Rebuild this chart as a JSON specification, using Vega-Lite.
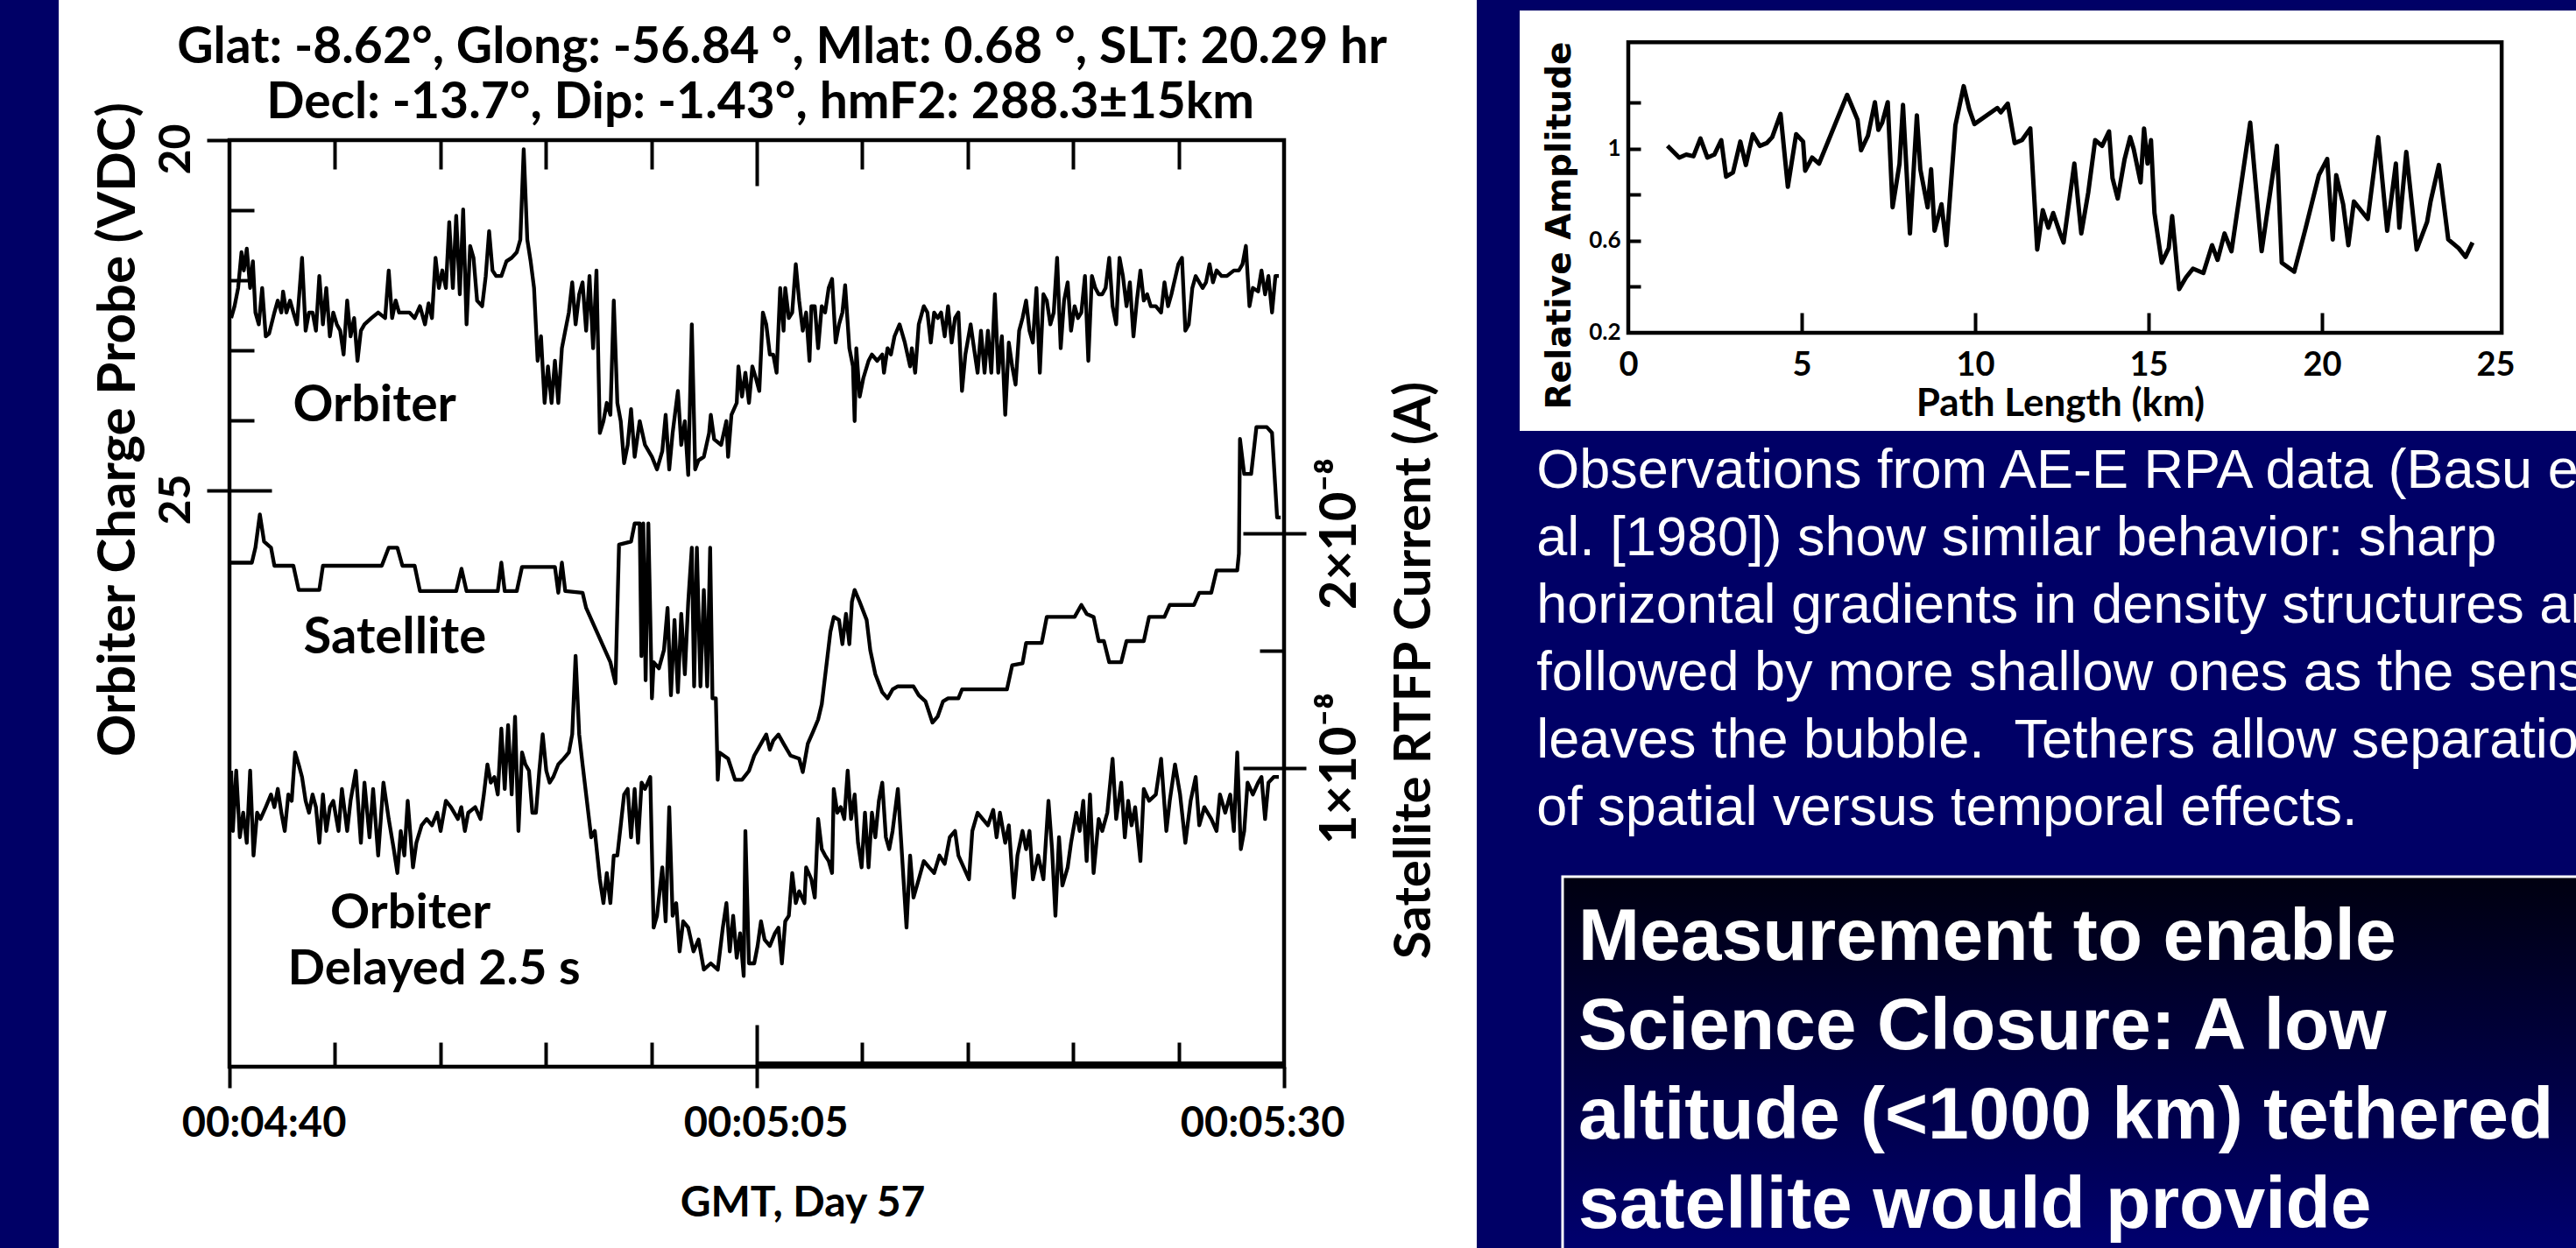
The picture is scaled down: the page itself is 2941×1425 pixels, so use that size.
{
"$schema": "https://vega.github.io/schema/vega-lite/v6.json",
"background": "#000066",
"padding": {"left": 67, "top": 0, "right": 0, "bottom": 0},
"config": {
  "view": {"stroke": null},
  "axis": {"domain": false, "grid": false, "tickColor": "black", "tickWidth": 4, "labelColor": "black", "titleColor": "black", "labelFont": "Lato", "labelFontWeight": "bold", "titleFont": "Lato", "titleFontWeight": "bold", "labelFlush": false, "labelOverlap": false, "labelBound": false, "labelLimit": 1000, "titleLimit": 2000}
},
"datasets": {
"orbiter": [
{"t":0.08,"v":22.54},{"t":0.24,"v":22.37},{"t":0.41,"v":22.11},{"t":0.57,"v":21.60},{"t":0.68,"v":21.86},{"t":0.82,"v":21.55},{"t":0.98,"v":22.11},{"t":1.11,"v":21.73},{"t":1.23,"v":22.46},{"t":1.39,"v":22.63},{"t":1.55,"v":22.11},{"t":1.72,"v":22.80},{"t":1.88,"v":22.76},{"t":2.13,"v":22.46},{"t":2.29,"v":22.29},{"t":2.46,"v":22.46},{"t":2.54,"v":22.16},{"t":2.70,"v":22.46},{"t":2.87,"v":22.29},{"t":3.03,"v":22.46},{"t":3.20,"v":22.63},{"t":3.44,"v":21.68},{"t":3.61,"v":22.72},{"t":3.77,"v":22.46},{"t":3.94,"v":22.46},{"t":4.10,"v":22.72},{"t":4.26,"v":21.94},{"t":4.43,"v":22.63},{"t":4.59,"v":22.11},{"t":4.76,"v":22.80},{"t":4.92,"v":22.46},{"t":5.09,"v":22.63},{"t":5.25,"v":22.72},{"t":5.41,"v":23.06},{"t":5.58,"v":22.29},{"t":5.74,"v":22.80},{"t":5.91,"v":22.54},{"t":6.07,"v":23.15},{"t":6.23,"v":22.72},{"t":6.40,"v":22.63},{"t":6.73,"v":22.54},{"t":7.05,"v":22.46},{"t":7.38,"v":22.54},{"t":7.55,"v":21.86},{"t":7.71,"v":22.54},{"t":7.88,"v":22.29},{"t":8.04,"v":22.46},{"t":8.29,"v":22.46},{"t":8.53,"v":22.46},{"t":8.78,"v":22.54},{"t":9.03,"v":22.37},{"t":9.27,"v":22.63},{"t":9.44,"v":22.33},{"t":9.60,"v":22.54},{"t":9.77,"v":21.68},{"t":9.93,"v":22.11},{"t":10.09,"v":21.86},{"t":10.26,"v":22.11},{"t":10.42,"v":21.17},{"t":10.59,"v":22.11},{"t":10.75,"v":21.08},{"t":10.92,"v":22.20},{"t":11.08,"v":20.99},{"t":11.24,"v":22.63},{"t":11.41,"v":21.51},{"t":11.57,"v":21.68},{"t":11.74,"v":22.29},{"t":11.98,"v":22.37},{"t":12.15,"v":21.94},{"t":12.31,"v":21.30},{"t":12.47,"v":21.86},{"t":12.64,"v":21.94},{"t":12.89,"v":21.94},{"t":13.13,"v":21.73},{"t":13.38,"v":21.68},{"t":13.62,"v":21.60},{"t":13.79,"v":21.42},{"t":13.95,"v":20.13},{"t":14.12,"v":21.42},{"t":14.28,"v":21.73},{"t":14.44,"v":22.11},{"t":14.61,"v":23.15},{"t":14.77,"v":22.80},{"t":14.94,"v":23.75},{"t":15.10,"v":23.23},{"t":15.27,"v":23.75},{"t":15.43,"v":23.15},{"t":15.59,"v":23.75},{"t":15.76,"v":22.97},{"t":15.92,"v":22.72},{"t":16.09,"v":22.46},{"t":16.25,"v":22.03},{"t":16.41,"v":22.63},{"t":16.58,"v":22.20},{"t":16.74,"v":22.03},{"t":16.91,"v":22.72},{"t":17.07,"v":21.94},{"t":17.24,"v":22.97},{"t":17.40,"v":21.86},{"t":17.56,"v":24.18},{"t":17.73,"v":24.01},{"t":17.89,"v":23.75},{"t":18.06,"v":23.92},{"t":18.22,"v":22.29},{"t":18.39,"v":23.75},{"t":18.55,"v":24.01},{"t":18.71,"v":24.61},{"t":18.88,"v":24.35},{"t":19.04,"v":23.84},{"t":19.21,"v":24.52},{"t":19.45,"v":24.01},{"t":19.70,"v":24.35},{"t":20.03,"v":24.52},{"t":20.27,"v":24.70},{"t":20.52,"v":24.44},{"t":20.68,"v":23.92},{"t":20.85,"v":24.70},{"t":21.01,"v":24.18},{"t":21.26,"v":23.58},{"t":21.42,"v":24.35},{"t":21.59,"v":24.01},{"t":21.75,"v":24.78},{"t":21.92,"v":22.63},{"t":22.08,"v":24.70},{"t":22.24,"v":24.57},{"t":22.49,"v":24.52},{"t":22.74,"v":24.18},{"t":22.82,"v":23.92},{"t":22.98,"v":24.27},{"t":23.31,"v":24.35},{"t":23.56,"v":24.01},{"t":23.64,"v":24.52},{"t":23.80,"v":23.92},{"t":24.05,"v":23.75},{"t":24.13,"v":23.23},{"t":24.30,"v":23.66},{"t":24.46,"v":23.32},
{"t":24.63,"v":23.75},{"t":24.79,"v":23.23},{"t":24.96,"v":23.40},{"t":25.12,"v":23.58},{"t":25.29,"v":22.46},{"t":25.45,"v":22.63},{"t":25.62,"v":23.06},{"t":25.78,"v":23.06},{"t":25.94,"v":23.32},{"t":26.11,"v":22.11},{"t":26.27,"v":22.72},{"t":26.35,"v":22.11},{"t":26.52,"v":22.54},{"t":26.68,"v":22.46},{"t":26.85,"v":21.77},{"t":27.01,"v":22.29},{"t":27.18,"v":22.72},{"t":27.34,"v":22.46},{"t":27.50,"v":23.15},{"t":27.59,"v":22.37},{"t":27.75,"v":22.37},{"t":27.91,"v":22.97},{"t":28.08,"v":22.37},{"t":28.24,"v":22.46},{"t":28.41,"v":22.11},{"t":28.57,"v":21.98},{"t":28.74,"v":22.89},{"t":28.90,"v":22.63},{"t":29.06,"v":22.46},{"t":29.19,"v":22.07},{"t":29.39,"v":22.97},{"t":29.56,"v":23.23},{"t":29.64,"v":24.01},{"t":29.72,"v":22.97},{"t":29.88,"v":23.66},{"t":30.05,"v":23.40},{"t":30.30,"v":23.15},{"t":30.46,"v":23.06},{"t":30.71,"v":23.15},{"t":30.95,"v":23.06},{"t":31.03,"v":23.32},{"t":31.20,"v":22.97},{"t":31.36,"v":23.06},{"t":31.53,"v":22.80},{"t":31.77,"v":22.63},{"t":32.02,"v":22.89},{"t":32.27,"v":23.23},{"t":32.35,"v":22.97},{"t":32.51,"v":23.32},{"t":32.68,"v":22.63},{"t":32.92,"v":22.37},{"t":33.09,"v":22.46},{"t":33.25,"v":22.89},{"t":33.41,"v":22.46},{"t":33.58,"v":22.54},{"t":33.74,"v":22.46},{"t":33.91,"v":22.80},{"t":34.07,"v":22.37},{"t":34.24,"v":22.89},{"t":34.40,"v":22.54},{"t":34.56,"v":22.46},{"t":34.73,"v":23.58},{"t":34.89,"v":23.06},{"t":35.14,"v":22.63},{"t":35.30,"v":22.97},{"t":35.47,"v":23.32},{"t":35.63,"v":22.72},{"t":35.80,"v":23.32},{"t":35.96,"v":22.72},{"t":36.12,"v":23.32},{"t":36.29,"v":22.20},{"t":36.45,"v":23.32},{"t":36.62,"v":22.80},{"t":36.78,"v":23.92},{"t":36.95,"v":22.89},{"t":37.11,"v":23.23},{"t":37.27,"v":23.49},{"t":37.44,"v":22.72},{"t":37.60,"v":22.54},{"t":37.77,"v":22.29},{"t":37.93,"v":22.72},{"t":38.09,"v":22.89},{"t":38.26,"v":22.11},{"t":38.42,"v":23.32},{"t":38.59,"v":22.20},{"t":38.75,"v":22.29},{"t":38.92,"v":22.63},{"t":39.08,"v":22.46},{"t":39.24,"v":21.68},{"t":39.41,"v":22.97},{"t":39.57,"v":22.29},{"t":39.74,"v":22.03},{"t":39.90,"v":22.72},{"t":40.07,"v":22.37},{"t":40.23,"v":22.54},{"t":40.39,"v":22.46},{"t":40.56,"v":21.94},{"t":40.72,"v":23.15},{"t":40.89,"v":21.94},{"t":41.05,"v":22.11},{"t":41.21,"v":22.20},{"t":41.38,"v":22.20},{"t":41.54,"v":22.11},{"t":41.71,"v":21.68},{"t":41.87,"v":22.37},{"t":42.04,"v":22.63},{"t":42.20,"v":21.68},{"t":42.36,"v":21.94},{"t":42.53,"v":22.37},{"t":42.69,"v":22.03},{"t":42.86,"v":22.80},{"t":43.02,"v":22.29},{"t":43.19,"v":21.86},{"t":43.35,"v":22.29},{"t":43.51,"v":22.20},{"t":43.68,"v":22.37},{"t":43.92,"v":22.37},{"t":44.17,"v":22.46},{"t":44.33,"v":22.03},{"t":44.50,"v":22.37},{"t":44.66,"v":22.20},{"t":44.99,"v":21.77},{"t":45.16,"v":21.68},{"t":45.32,"v":22.72},{"t":45.48,"v":22.63},{"t":45.65,"v":22.11},{"t":45.81,"v":21.94},{"t":45.98,"v":22.03},{"t":46.14,"v":22.11},{"t":46.30,"v":22.03},{"t":46.47,"v":21.77},{"t":46.63,"v":22.03},{"t":46.80,"v":21.86},{"t":47.04,"v":21.94},{"t":47.29,"v":21.94},{"t":47.62,"v":21.86},{"t":47.86,"v":21.86},{"t":48.03,"v":21.77},{"t":48.19,"v":21.51},{"t":48.36,"v":22.37},{"t":48.52,"v":22.11},{"t":48.77,"v":22.16},{"t":48.93,"v":21.86},{"t":49.10,"v":22.20},{"t":49.26,"v":21.94},{"t":49.43,"v":22.46},{"t":49.59,"v":21.94},{"t":49.75,"v":21.94}
],
"delayed": [
{"t":0.08,"v":29.00},{"t":0.16,"v":29.86},{"t":0.32,"v":29.00},{"t":0.49,"v":29.95},{"t":0.65,"v":29.60},{"t":0.82,"v":30.03},{"t":0.98,"v":29.00},{"t":1.14,"v":30.21},{"t":1.31,"v":29.60},{"t":1.47,"v":29.69},{"t":1.72,"v":29.52},{"t":1.97,"v":29.34},{"t":2.13,"v":29.52},{"t":2.29,"v":29.26},{"t":2.46,"v":29.60},{"t":2.62,"v":29.86},{"t":2.79,"v":29.34},{"t":2.95,"v":29.43},{"t":3.11,"v":28.74},{"t":3.28,"v":28.91},{"t":3.44,"v":29.09},{"t":3.61,"v":29.43},{"t":3.77,"v":29.60},{"t":3.94,"v":29.34},{"t":4.10,"v":29.52},{"t":4.26,"v":30.03},{"t":4.43,"v":29.34},{"t":4.59,"v":29.86},{"t":4.76,"v":29.52},{"t":4.92,"v":29.43},{"t":5.17,"v":29.86},{"t":5.33,"v":29.26},{"t":5.58,"v":29.86},{"t":5.74,"v":29.43},{"t":5.99,"v":29.00},{"t":6.23,"v":30.03},{"t":6.40,"v":29.17},{"t":6.64,"v":29.95},{"t":6.81,"v":29.26},{"t":7.05,"v":30.21},{"t":7.30,"v":29.17},{"t":7.55,"v":29.69},{"t":7.79,"v":30.12},{"t":7.96,"v":30.46},{"t":8.12,"v":29.86},{"t":8.29,"v":30.21},{"t":8.45,"v":29.43},{"t":8.70,"v":30.38},{"t":8.86,"v":30.03},{"t":9.11,"v":29.78},{"t":9.35,"v":29.69},{"t":9.60,"v":29.78},{"t":9.85,"v":29.60},{"t":10.01,"v":29.86},{"t":10.26,"v":29.43},{"t":10.50,"v":29.52},{"t":10.83,"v":29.69},{"t":10.99,"v":29.52},{"t":11.16,"v":29.86},{"t":11.32,"v":29.60},{"t":11.65,"v":29.52},{"t":11.90,"v":29.69},{"t":12.06,"v":29.34},{"t":12.23,"v":28.91},{"t":12.39,"v":29.17},{"t":12.56,"v":29.09},{"t":12.72,"v":29.34},{"t":12.89,"v":28.40},{"t":13.05,"v":29.26},{"t":13.21,"v":28.35},{"t":13.38,"v":29.34},{"t":13.54,"v":28.23},{"t":13.70,"v":29.86},{"t":13.87,"v":28.74},{"t":14.03,"v":28.91},{"t":14.20,"v":29.00},{"t":14.36,"v":29.60},{"t":14.53,"v":29.60},{"t":14.69,"v":29.00},{"t":14.85,"v":28.48},{"t":15.02,"v":29.00},{"t":15.18,"v":29.17},{"t":15.35,"v":29.09},{"t":15.59,"v":28.91},{"t":15.84,"v":28.83},{"t":16.09,"v":28.74},{"t":16.25,"v":28.48},{"t":16.41,"v":27.36},{"t":16.58,"v":28.48},{"t":16.74,"v":28.91},{"t":16.91,"v":29.34},{"t":17.15,"v":29.95},{"t":17.32,"v":29.86},{"t":17.56,"v":30.55},{"t":17.73,"v":30.89},{"t":17.89,"v":30.46},{"t":18.06,"v":30.89},{"t":18.22,"v":30.21},{"t":18.39,"v":30.21},{"t":18.55,"v":29.78},{"t":18.71,"v":29.34},{"t":18.88,"v":29.26},{"t":19.04,"v":29.95},{"t":19.21,"v":29.26},{"t":19.37,"v":30.03},{"t":19.54,"v":29.17},{"t":19.70,"v":29.26},{"t":19.95,"v":29.09},{"t":20.11,"v":31.24},{"t":20.27,"v":31.07},{"t":20.52,"v":30.38},{"t":20.68,"v":31.15},{"t":20.85,"v":29.52},{"t":21.01,"v":31.07},{"t":21.18,"v":30.89},{"t":21.34,"v":31.58},{"t":21.51,"v":31.15},{"t":21.75,"v":31.24},{"t":22.00,"v":31.58},{"t":22.24,"v":31.41},{"t":22.49,"v":31.84},{"t":22.82,"v":31.75},{"t":23.15,"v":31.84},{"t":23.39,"v":31.24},{"t":23.56,"v":30.89},{"t":23.72,"v":31.58},{"t":23.88,"v":31.07},{"t":24.05,"v":31.67},{"t":24.21,"v":31.32},{"t":24.38,"v":31.93},{"t":24.46,"v":29.86},{"t":24.63,"v":31.75},
{"t":24.88,"v":31.75},{"t":25.04,"v":31.50},{"t":25.20,"v":31.15},{"t":25.37,"v":31.41},{"t":25.62,"v":31.50},{"t":25.86,"v":31.32},{"t":26.03,"v":31.24},{"t":26.19,"v":31.75},{"t":26.35,"v":31.15},{"t":26.52,"v":31.07},{"t":26.68,"v":30.46},{"t":26.85,"v":30.89},{"t":27.01,"v":30.72},{"t":27.26,"v":30.89},{"t":27.34,"v":30.38},{"t":27.59,"v":30.55},{"t":27.75,"v":30.81},{"t":27.91,"v":29.69},{"t":28.08,"v":30.12},{"t":28.24,"v":30.21},{"t":28.41,"v":30.29},{"t":28.57,"v":30.46},{"t":28.65,"v":29.26},{"t":28.82,"v":29.60},{"t":28.98,"v":29.52},{"t":29.15,"v":29.69},{"t":29.31,"v":29.00},{"t":29.47,"v":29.69},{"t":29.64,"v":29.34},{"t":29.80,"v":30.03},{"t":29.97,"v":30.38},{"t":30.13,"v":29.60},{"t":30.30,"v":30.38},{"t":30.46,"v":29.60},{"t":30.62,"v":29.95},{"t":30.79,"v":29.43},{"t":30.95,"v":29.17},{"t":31.12,"v":29.95},{"t":31.28,"v":30.12},{"t":31.44,"v":29.86},{"t":31.69,"v":29.26},{"t":31.85,"v":30.03},{"t":32.10,"v":31.24},{"t":32.27,"v":30.21},{"t":32.43,"v":30.81},{"t":32.68,"v":30.55},{"t":32.92,"v":30.29},{"t":33.17,"v":30.38},{"t":33.41,"v":30.46},{"t":33.66,"v":30.21},{"t":33.91,"v":30.33},{"t":34.15,"v":29.95},{"t":34.40,"v":29.86},{"t":34.56,"v":30.21},{"t":34.81,"v":30.38},{"t":35.06,"v":30.55},{"t":35.22,"v":29.86},{"t":35.47,"v":29.60},{"t":35.71,"v":29.69},{"t":35.96,"v":29.78},{"t":36.21,"v":29.56},{"t":36.37,"v":29.95},{"t":36.53,"v":29.60},{"t":36.78,"v":30.03},{"t":36.95,"v":29.78},{"t":37.19,"v":30.81},{"t":37.36,"v":30.21},{"t":37.60,"v":29.86},{"t":37.77,"v":30.12},{"t":37.93,"v":29.86},{"t":38.09,"v":30.55},{"t":38.34,"v":30.21},{"t":38.59,"v":30.55},{"t":38.83,"v":29.43},{"t":39.00,"v":30.12},{"t":39.16,"v":31.07},{"t":39.33,"v":29.95},{"t":39.49,"v":30.64},{"t":39.74,"v":30.38},{"t":39.90,"v":30.03},{"t":40.15,"v":29.60},{"t":40.31,"v":29.86},{"t":40.48,"v":29.43},{"t":40.64,"v":30.29},{"t":40.80,"v":29.34},{"t":40.97,"v":30.46},{"t":41.21,"v":29.69},{"t":41.38,"v":29.86},{"t":41.62,"v":29.60},{"t":41.87,"v":28.83},{"t":42.04,"v":29.69},{"t":42.28,"v":29.17},{"t":42.45,"v":29.95},{"t":42.61,"v":29.43},{"t":42.77,"v":29.78},{"t":42.94,"v":29.52},{"t":43.19,"v":30.29},{"t":43.35,"v":29.26},{"t":43.60,"v":29.43},{"t":43.92,"v":29.34},{"t":44.17,"v":28.83},{"t":44.42,"v":29.86},{"t":44.58,"v":29.43},{"t":44.83,"v":28.91},{"t":45.07,"v":29.34},{"t":45.32,"v":30.03},{"t":45.57,"v":29.43},{"t":45.81,"v":29.09},{"t":45.98,"v":29.78},{"t":46.22,"v":29.52},{"t":46.55,"v":29.69},{"t":46.80,"v":29.86},{"t":46.96,"v":29.34},{"t":47.21,"v":29.60},{"t":47.45,"v":29.34},{"t":47.62,"v":29.86},{"t":47.78,"v":28.74},{"t":47.95,"v":30.12},{"t":48.11,"v":29.86},{"t":48.27,"v":29.17},{"t":48.52,"v":29.34},{"t":48.77,"v":29.17},{"t":48.93,"v":29.09},{"t":49.10,"v":29.69},{"t":49.26,"v":29.17},{"t":49.51,"v":29.09},{"t":49.75,"v":29.09}
],
"satellite": [
{"t":0.08,"c":1.875},{"t":1.06,"c":1.875},{"t":1.23,"c":1.939},{"t":1.44,"c":2.081},{"t":1.64,"c":1.965},{"t":1.97,"c":1.939},{"t":2.13,"c":1.862},{"t":3.03,"c":1.862},{"t":3.28,"c":1.759},{"t":4.26,"c":1.759},{"t":4.43,"c":1.862},{"t":7.22,"c":1.862},{"t":7.55,"c":1.939},{"t":7.96,"c":1.939},{"t":8.20,"c":1.862},{"t":8.78,"c":1.862},{"t":9.03,"c":1.754},{"t":10.75,"c":1.754},{"t":11.00,"c":1.849},{"t":11.24,"c":1.754},{"t":12.72,"c":1.754},{"t":12.89,"c":1.875},{"t":13.05,"c":1.754},{"t":13.62,"c":1.754},{"t":13.87,"c":1.857},{"t":15.43,"c":1.857},{"t":15.59,"c":1.747},{"t":15.76,"c":1.875},{"t":15.92,"c":1.754},{"t":16.74,"c":1.747},{"t":16.91,"c":1.682},{"t":18.06,"c":1.451},{"t":18.30,"c":1.361},{"t":18.47,"c":1.952},{"t":19.04,"c":1.965},{"t":19.21,"c":2.042},{"t":19.45,"c":2.042},{"t":19.53,"c":1.477},{"t":19.62,"c":2.042},{"t":19.73,"c":1.374},{"t":19.86,"c":2.042},{"t":20.03,"c":1.297},{"t":20.11,"c":1.451},{"t":20.36,"c":1.425},{"t":20.60,"c":1.503},{"t":20.77,"c":1.682},{"t":20.93,"c":1.310},{"t":21.10,"c":1.631},{"t":21.26,"c":1.323},{"t":21.42,"c":1.657},{"t":21.59,"c":1.400},{"t":21.75,"c":1.708},{"t":21.92,"c":1.939},{"t":22.03,"c":1.348},{"t":22.16,"c":1.939},{"t":22.33,"c":1.348},{"t":22.49,"c":1.759},{"t":22.65,"c":1.348},{"t":22.79,"c":1.939},{"t":22.90,"c":1.297},{"t":23.06,"c":1.297},{"t":23.15,"c":0.950},{"t":23.23,"c":1.066},{"t":23.64,"c":1.040},{"t":23.97,"c":0.950},{"t":24.30,"c":0.950},{"t":24.63,"c":0.988},{"t":24.88,"c":1.053},{"t":25.12,"c":1.091},{"t":25.45,"c":1.143},{"t":25.62,"c":1.078},{"t":25.78,"c":1.117},{"t":26.03,"c":1.143},{"t":26.27,"c":1.104},{"t":26.60,"c":1.053},{"t":27.01,"c":1.040},{"t":27.18,"c":0.983},{"t":27.42,"c":1.104},{"t":27.67,"c":1.155},{"t":27.91,"c":1.207},{"t":28.08,"c":1.271},{"t":28.32,"c":1.451},{"t":28.49,"c":1.580},{"t":28.65,"c":1.644},{"t":28.90,"c":1.631},{"t":29.06,"c":1.528},{"t":29.23,"c":1.657},{"t":29.39,"c":1.528},{"t":29.51,"c":1.708},{"t":29.64,"c":1.759},{"t":29.88,"c":1.708},{"t":30.21,"c":1.631},{"t":30.38,"c":1.503},{"t":30.62,"c":1.400},{"t":30.95,"c":1.323},{"t":31.20,"c":1.297},{"t":31.44,"c":1.335},{"t":31.69,"c":1.348},{"t":32.43,"c":1.348},{"t":32.68,"c":1.310},{"t":33.00,"c":1.284},{"t":33.33,"c":1.194},{"t":33.58,"c":1.220},{"t":33.83,"c":1.284},{"t":34.07,"c":1.297},{"t":34.56,"c":1.297},{"t":34.73,"c":1.335},{"t":36.86,"c":1.335},{"t":37.11,"c":1.438},{"t":37.60,"c":1.446},{"t":37.77,"c":1.533},{"t":38.51,"c":1.533},{"t":38.75,"c":1.644},{"t":40.07,"c":1.644},{"t":40.39,"c":1.695},{"t":40.64,"c":1.657},{"t":40.97,"c":1.644},{"t":41.21,"c":1.541},{"t":41.46,"c":1.541},{"t":41.71,"c":1.451},{"t":42.28,"c":1.451},{"t":42.53,"c":1.541},{"t":43.35,"c":1.541},{"t":43.60,"c":1.644},{"t":44.33,"c":1.644},{"t":44.58,"c":1.695},{"t":45.73,"c":1.695},{"t":45.98,"c":1.747},{"t":46.55,"c":1.747},{"t":46.80,"c":1.842},{"t":47.78,"c":1.842},{"t":47.86,"c":1.914},{"t":47.91,"c":2.402},{"t":48.11,"c":2.253},{"t":48.44,"c":2.253},{"t":48.69,"c":2.453},{"t":49.18,"c":2.453},{"t":49.43,"c":2.428},{"t":49.67,"c":2.068},{"t":49.84,"c":2.068}
],
"inset": [
{"km":1.13,"a":1.013},{"km":1.47,"a":0.962},{"km":1.67,"a":0.975},{"km":1.88,"a":0.968},{"km":2.08,"a":1.045},{"km":2.28,"a":0.962},{"km":2.48,"a":0.975},{"km":2.68,"a":1.038},{"km":2.82,"a":0.879},{"km":3.02,"a":0.898},{"km":3.23,"a":1.032},{"km":3.39,"a":0.930},{"km":3.59,"a":1.064},{"km":3.79,"a":1.013},{"km":3.99,"a":1.025},{"km":4.15,"a":1.051},{"km":4.39,"a":1.152},{"km":4.60,"a":0.835},{"km":4.84,"a":1.064},{"km":5.04,"a":1.032},{"km":5.10,"a":0.905},{"km":5.30,"a":0.962},{"km":5.50,"a":0.936},{"km":6.31,"a":1.235},{"km":6.61,"a":1.127},{"km":6.71,"a":0.994},{"km":6.91,"a":1.057},{"km":7.11,"a":1.203},{"km":7.21,"a":1.083},{"km":7.32,"a":1.114},{"km":7.48,"a":1.203},{"km":7.62,"a":0.746},{"km":7.82,"a":0.936},{"km":7.92,"a":1.191},{"km":8.12,"a":0.632},{"km":8.32,"a":1.146},{"km":8.42,"a":0.911},{"km":8.63,"a":0.746},{"km":8.73,"a":0.911},{"km":8.83,"a":0.644},{"km":9.03,"a":0.759},{"km":9.17,"a":0.581},{"km":9.43,"a":1.102},{"km":9.67,"a":1.273},{"km":9.83,"a":1.172},{"km":9.98,"a":1.108},{"km":10.64,"a":1.178},{"km":10.74,"a":1.159},{"km":10.94,"a":1.197},{"km":11.14,"a":1.025},{"km":11.35,"a":1.038},{"km":11.59,"a":1.089},{"km":11.79,"a":0.562},{"km":11.95,"a":0.733},{"km":12.11,"a":0.657},{"km":12.25,"a":0.721},{"km":12.45,"a":0.632},{"km":12.55,"a":0.593},{"km":12.86,"a":0.936},{"km":13.06,"a":0.632},{"km":13.26,"a":0.809},{"km":13.46,"a":1.038},{"km":13.66,"a":1.013},{"km":13.86,"a":1.076},{"km":13.96,"a":0.873},{"km":14.11,"a":0.784},{"km":14.31,"a":0.956},{"km":14.47,"a":1.051},{"km":14.57,"a":1.000},{"km":14.77,"a":0.854},{"km":14.87,"a":1.089},{"km":14.97,"a":0.936},{"km":15.07,"a":1.038},{"km":15.17,"a":0.721},{"km":15.38,"a":0.505},{"km":15.58,"a":0.568},{"km":15.68,"a":0.708},{"km":15.88,"a":0.390},{"km":16.08,"a":0.441},{"km":16.28,"a":0.479},{"km":16.58,"a":0.460},{"km":16.83,"a":0.581},{"km":16.99,"a":0.517},{"km":17.19,"a":0.632},{"km":17.39,"a":0.555},{"km":17.93,"a":1.114},{"km":18.26,"a":0.555},{"km":18.70,"a":1.013},{"km":18.84,"a":0.505},{"km":19.20,"a":0.466},{"km":19.51,"a":0.644},{"km":19.91,"a":0.886},{"km":20.15,"a":0.956},{"km":20.31,"a":0.606},{"km":20.41,"a":0.886},{"km":20.61,"a":0.759},{"km":20.76,"a":0.581},{"km":20.92,"a":0.771},{"km":21.32,"a":0.695},{"km":21.62,"a":1.051},{"km":21.88,"a":0.644},{"km":22.13,"a":0.936},{"km":22.23,"a":0.657},{"km":22.43,"a":0.987},{"km":22.73,"a":0.562},{"km":23.03,"a":0.682},{"km":23.13,"a":0.771},{"km":23.37,"a":0.930},{"km":23.64,"a":0.606},{"km":23.94,"a":0.568},{"km":24.14,"a":0.530},{"km":24.34,"a":0.593}
],
"para": [
{"line":1,"text":"Observations from AE-E RPA data (Basu et"},
{"line":2,"text":"al. [1980]) show similar behavior: sharp"},
{"line":3,"text":"horizontal gradients in density structures are"},
{"line":4,"text":"followed by more shallow ones as the sensor"},
{"line":5,"text":"leaves the bubble.\u00a0 Tethers allow separation"},
{"line":6,"text":"of spatial versus temporal effects."}
],
"boxtext": [
{"line":1,"text":"Measurement to enable"},
{"line":2,"text":"Science Closure: A low"},
{"line":3,"text":"altitude (<1000 km) tethered"},
{"line":4,"text":"satellite would provide"}
]
},
"hconcat": [
{
"width": 1619, "height": 1425,
"view": {"fill": "white", "stroke": null},
"resolve": {"scale": {"y": "independent"}, "axis": {"x": "independent", "y": "independent"}},
"layer": [
{"data": {"values": [{}]},
 "mark": {"type": "rect", "fill": "transparent", "stroke": "black", "strokeWidth": 4.5},
 "encoding": {
  "x": {"datum": 0, "type": "quantitative", "scale": {"domain": [-8.098, 59.136], "nice": false, "zero": false}, "axis": {"orient": "bottom", "offset": -207, "values": [25], "tickSize": -48, "labels": false, "title": null}},
  "x2": {"datum": 50},
  "y": {"datum": 20, "type": "quantitative", "scale": {"domain": [18, 35.8125], "reverse": true, "nice": false, "zero": false}, "axis": {"orient": "left", "offset": -195, "values": [25], "tickSize": -48, "labels": false, "title": null}},
  "y2": {"datum": 33.225}
 }},
{"data": {"values": [{}]},
 "mark": {"type": "rule", "color": "black", "strokeWidth": 8},
 "encoding": {
  "x": {"datum": 25, "type": "quantitative", "scale": {"domain": [-8.098, 59.136], "nice": false, "zero": false}, "axis": null},
  "x2": {"datum": 50},
  "y": {"datum": 33.2, "type": "quantitative", "scale": {"domain": [18, 35.8125], "reverse": true, "nice": false, "zero": false}, "axis": null}
 }},
{"data": {"name": "orbiter"},
 "mark": {"type": "line", "color": "black", "strokeWidth": 4.3, "strokeJoin": "round"},
 "encoding": {
  "x": {"field": "t", "type": "quantitative", "scale": {"domain": [-8.098, 59.136], "nice": false, "zero": false},
        "axis": {"orient": "bottom", "offset": -207, "values": [25], "tickSize": 24, "labelExpr": "'00:05:05'", "labelFontSize": 47, "labelPadding": 18, "labelOffset": 10,
                 "title": "GMT, Day 57", "titleFontSize": 48, "titleX": 849, "titleY": 170, "titleBaseline": "alphabetic", "titleAlign": "center", "titleAnchor": null}},
  "y": {"field": "v", "type": "quantitative", "scale": {"domain": [18, 35.8125], "reverse": true, "nice": false, "zero": false},
        "axis": {"orient": "left", "offset": -195, "values": [20, 25], "tickSize": 26, "labelAngle": -90, "labelAlign": "center", "labelBaseline": "middle", "labelPadding": 35, "labelFontSize": 50, "labelOffset": 10,
                 "title": "Orbiter Charge Probe (VDC)", "titleFontSize": 60, "titleAngle": -90, "titleX": -127, "titleY": 490, "titleBaseline": "middle", "titleAlign": "center", "titleAnchor": null}}
 }},
{"data": {"name": "delayed"},
 "mark": {"type": "line", "color": "black", "strokeWidth": 4.3, "strokeJoin": "round"},
 "encoding": {
  "x": {"field": "t", "type": "quantitative", "scale": {"domain": [-8.098, 59.136], "nice": false, "zero": false},
        "axis": {"orient": "bottom", "offset": -207, "values": [5, 10, 15, 20, 30, 35, 40, 45], "tickSize": -28, "labels": false, "title": null}},
  "y": {"field": "v", "type": "quantitative", "scale": {"domain": [18, 35.8125], "reverse": true, "nice": false, "zero": false},
        "axis": {"orient": "left", "offset": -195, "values": [21, 22, 23, 24], "tickSize": -28, "labels": false, "title": null}}
 }},
{"data": {"name": "satellite"},
 "mark": {"type": "line", "color": "black", "strokeWidth": 4.3, "strokeJoin": "round"},
 "encoding": {
  "x": {"field": "t", "type": "quantitative", "scale": {"domain": [-8.098, 59.136], "nice": false, "zero": false},
        "axis": {"orient": "top", "offset": -160, "values": [5, 10, 15, 20, 30, 35, 40, 45], "tickSize": -33, "labels": false, "title": null}},
  "y": {"field": "c", "type": "quantitative", "scale": {"domain": [-1.0448, 4.2724], "nice": false, "zero": false},
        "axis": {"orient": "right", "offset": -220, "values": [1, 2], "tickSize": 25, "labelExpr": "datum.value == 2 ? '2×10⁻⁸' : '1×10⁻⁸'", "labelAngle": -90, "labelAlign": "center", "labelBaseline": "middle", "labelPadding": 39, "labelFontSize": 58,
                 "title": "Satellite RTFP Current (A)", "titleFontSize": 58, "titleAngle": -90, "titleX": 149, "titleY": 765, "titleBaseline": "middle", "titleAlign": "center", "titleAnchor": null}}
 }},
{"data": {"values": [{}]},
 "mark": {"type": "text", "text": "Satellite", "font": "Lato", "fontWeight": "bold", "fontSize": 58, "align": "center", "baseline": "alphabetic", "color": "black"},
 "encoding": {
  "x": {"datum": 7.84, "type": "quantitative", "scale": {"domain": [-8.098, 59.136], "nice": false, "zero": false},
        "axis": {"orient": "top", "offset": -160, "values": [25], "tickSize": -52, "labels": false, "title": null}},
  "y": {"datum": 1.49, "type": "quantitative", "scale": {"domain": [-1.0448, 4.2724], "nice": false, "zero": false},
        "axis": {"orient": "right", "offset": -220, "values": [1, 2], "tickSize": -47, "labels": false, "title": null}}
 }},
{"data": {"values": [{}]},
 "mark": {"type": "text", "text": "Decl: -13.7°, Dip: -1.43°, hmF2: 288.3±15km", "font": "Lato", "fontWeight": "bold", "fontSize": 57, "align": "center", "baseline": "alphabetic", "color": "black"},
 "encoding": {
  "x": {"datum": 25.17, "type": "quantitative", "scale": {"domain": [-8.098, 59.136], "nice": false, "zero": false}, "axis": null},
  "y": {"datum": 3.768, "type": "quantitative", "scale": {"domain": [-1.0448, 4.2724], "nice": false, "zero": false},
        "axis": {"orient": "right", "offset": -220, "values": [1.5], "tickSize": -28, "labels": false, "title": null}}
 }},
{"data": {"values": [{}]},
 "mark": {"type": "text", "text": "Glat: -8.62°, Glong: -56.84 °, Mlat: 0.68 °, SLT: 20.29 hr", "font": "Lato", "fontWeight": "bold", "fontSize": 57, "align": "center", "baseline": "alphabetic", "color": "black"},
 "encoding": {
  "x": {"datum": 26.2, "type": "quantitative", "scale": {"domain": [-8.098, 59.136], "nice": false, "zero": false}, "axis": null},
  "y": {"datum": 18.9, "type": "quantitative", "scale": {"domain": [18, 35.8125], "reverse": true, "nice": false, "zero": false}, "axis": null}
 }},
{"data": {"values": [{}]},
 "mark": {"type": "text", "text": "Orbiter", "font": "Lato", "fontWeight": "bold", "fontSize": 57, "align": "center", "baseline": "alphabetic", "color": "black"},
 "encoding": {
  "x": {"datum": 6.88, "type": "quantitative", "scale": {"domain": [-8.098, 59.136], "nice": false, "zero": false},
        "axis": {"orient": "bottom", "offset": -207, "values": [0], "tickSize": 24, "labelExpr": "'00:04:40'", "labelFontSize": 47, "labelPadding": 18, "labelOffset": 39, "title": null}},
  "y": {"datum": 24.01, "type": "quantitative", "scale": {"domain": [18, 35.8125], "reverse": true, "nice": false, "zero": false}, "axis": null}
 }},
{"data": {"values": [{}]},
 "mark": {"type": "text", "text": "Orbiter", "font": "Lato", "fontWeight": "bold", "fontSize": 56, "align": "center", "baseline": "alphabetic", "color": "black"},
 "encoding": {
  "x": {"datum": 8.58, "type": "quantitative", "scale": {"domain": [-8.098, 59.136], "nice": false, "zero": false},
        "axis": {"orient": "bottom", "offset": -207, "values": [50], "tickSize": 24, "labelExpr": "'00:05:30'", "labelFontSize": 47, "labelPadding": 18, "labelOffset": -25, "title": null}},
  "y": {"datum": 31.25, "type": "quantitative", "scale": {"domain": [18, 35.8125], "reverse": true, "nice": false, "zero": false}, "axis": null}
 }},
{"data": {"values": [{}]},
 "mark": {"type": "text", "text": "Delayed 2.5 s", "font": "Lato", "fontWeight": "bold", "fontSize": 56, "align": "center", "baseline": "alphabetic", "color": "black"},
 "encoding": {
  "x": {"datum": 9.7, "type": "quantitative", "scale": {"domain": [-8.098, 59.136], "nice": false, "zero": false}, "axis": null},
  "y": {"datum": 32.05, "type": "quantitative", "scale": {"domain": [18, 35.8125], "reverse": true, "nice": false, "zero": false}, "axis": null}
 }}
]
},
{
"vconcat": [
{"width": 1206, "height": 12, "data": {"values": [{}]}, "mark": {"type": "point", "opacity": 0}},
{
"width": 1206, "height": 480,
"view": {"fill": "white", "stroke": null},
"resolve": {"axis": {"x": "independent", "y": "independent"}},
"layer": [
{"data": {"values": [{}]},
 "mark": {"type": "rect", "fill": "transparent", "stroke": "black", "strokeWidth": 4.5},
 "encoding": {
  "x": {"datum": 0, "type": "quantitative", "scale": {"domain": [-3.1313, 27.323], "nice": false, "zero": false},
        "axis": {"orient": "bottom", "offset": -112, "values": [5, 10, 15, 20], "tickSize": -23, "labels": false, "title": null}},
  "x2": {"datum": 25.18},
  "y": {"datum": 0.2, "type": "quantitative", "scale": {"domain": [-0.2267, 1.6019], "nice": false, "zero": false},
        "axis": {"orient": "left", "offset": -124, "values": [0.4, 0.6, 0.8, 1.0, 1.2], "tickSize": -14, "labels": false, "title": null}},
  "y2": {"datum": 1.4636}
 }},
{"data": {"name": "inset"},
 "mark": {"type": "line", "color": "black", "strokeWidth": 5, "strokeJoin": "round"},
 "encoding": {
  "x": {"field": "km", "type": "quantitative", "scale": {"domain": [-3.1313, 27.323], "nice": false, "zero": false},
        "axis": {"orient": "bottom", "offset": -112, "values": [0, 5, 10, 15, 20, 25], "ticks": false, "labelFontSize": 38, "labelPadding": 18,
                 "title": "Path Length (km)", "titleFontSize": 44, "titleX": 617, "titleY": 94, "titleBaseline": "alphabetic", "titleAlign": "center", "titleAnchor": null}},
  "y": {"field": "a", "type": "quantitative", "scale": {"domain": [-0.2267, 1.6019], "nice": false, "zero": false},
        "axis": {"orient": "left", "offset": -124, "values": [0.2, 0.6, 1], "ticks": false, "labelExpr": "datum.value == 1 ? '1' : format(datum.value, '.1f')", "labelFontSize": 26, "labelPadding": 9,
                 "title": "Relative Amplitude", "titleFont": "DejaVu Sans", "titleFontSize": 39, "titleAngle": -90, "titleX": -79, "titleY": 245, "titleBaseline": "middle", "titleAlign": "center", "titleAnchor": null}}
 }}
]
},
{
"width": 1206, "height": 933,
"resolve": {"scale": {"y": "independent"}},
"layer": [
{"data": {"values": [{}]},
 "mark": {"type": "rect", "clip": true, "stroke": "white", "strokeWidth": 3,
          "fill": {"gradient": "linear", "x1": 0, "y1": 0, "x2": 0, "y2": 1, "stops": [{"offset": 0, "color": "#000010"}, {"offset": 1, "color": "#000070"}]}},
 "encoding": {
  "x": {"datum": 4.063, "type": "quantitative", "scale": {"domain": [0, 100], "nice": false, "zero": false}, "axis": null},
  "x2": {"datum": 110},
  "y": {"datum": 0.068, "type": "quantitative", "scale": {"domain": [-4.922, 4.225], "reverse": true, "nice": false, "zero": false}, "axis": null},
  "y2": {"datum": 4.3}
 }},
{"data": {"name": "para"},
 "mark": {"type": "text", "clip": true, "align": "left", "baseline": "alphabetic", "font": "Liberation Sans", "fontSize": 63, "color": "white"},
 "encoding": {
  "x": {"datum": 1.6, "type": "quantitative", "scale": {"domain": [0, 100], "nice": false, "zero": false}, "axis": null},
  "y": {"field": "line", "type": "quantitative", "scale": {"domain": [0.156, 12.273], "reverse": true, "nice": false, "zero": false}, "axis": null},
  "text": {"field": "text"}
 }},
{"data": {"name": "boxtext"},
 "mark": {"type": "text", "clip": true, "align": "left", "baseline": "alphabetic", "font": "Liberation Sans", "fontWeight": "bold", "fontSize": 84, "color": "white"},
 "encoding": {
  "x": {"datum": 5.556, "type": "quantitative", "scale": {"domain": [0, 100], "nice": false, "zero": false}, "axis": null},
  "y": {"field": "line", "type": "quantitative", "scale": {"domain": [-4.922, 4.225], "reverse": true, "nice": false, "zero": false}, "axis": null},
  "text": {"field": "text"}
 }}
]
}
],
"spacing": 0,
"bounds": "flush"
}
],
"spacing": 49,
"bounds": "flush"
}
